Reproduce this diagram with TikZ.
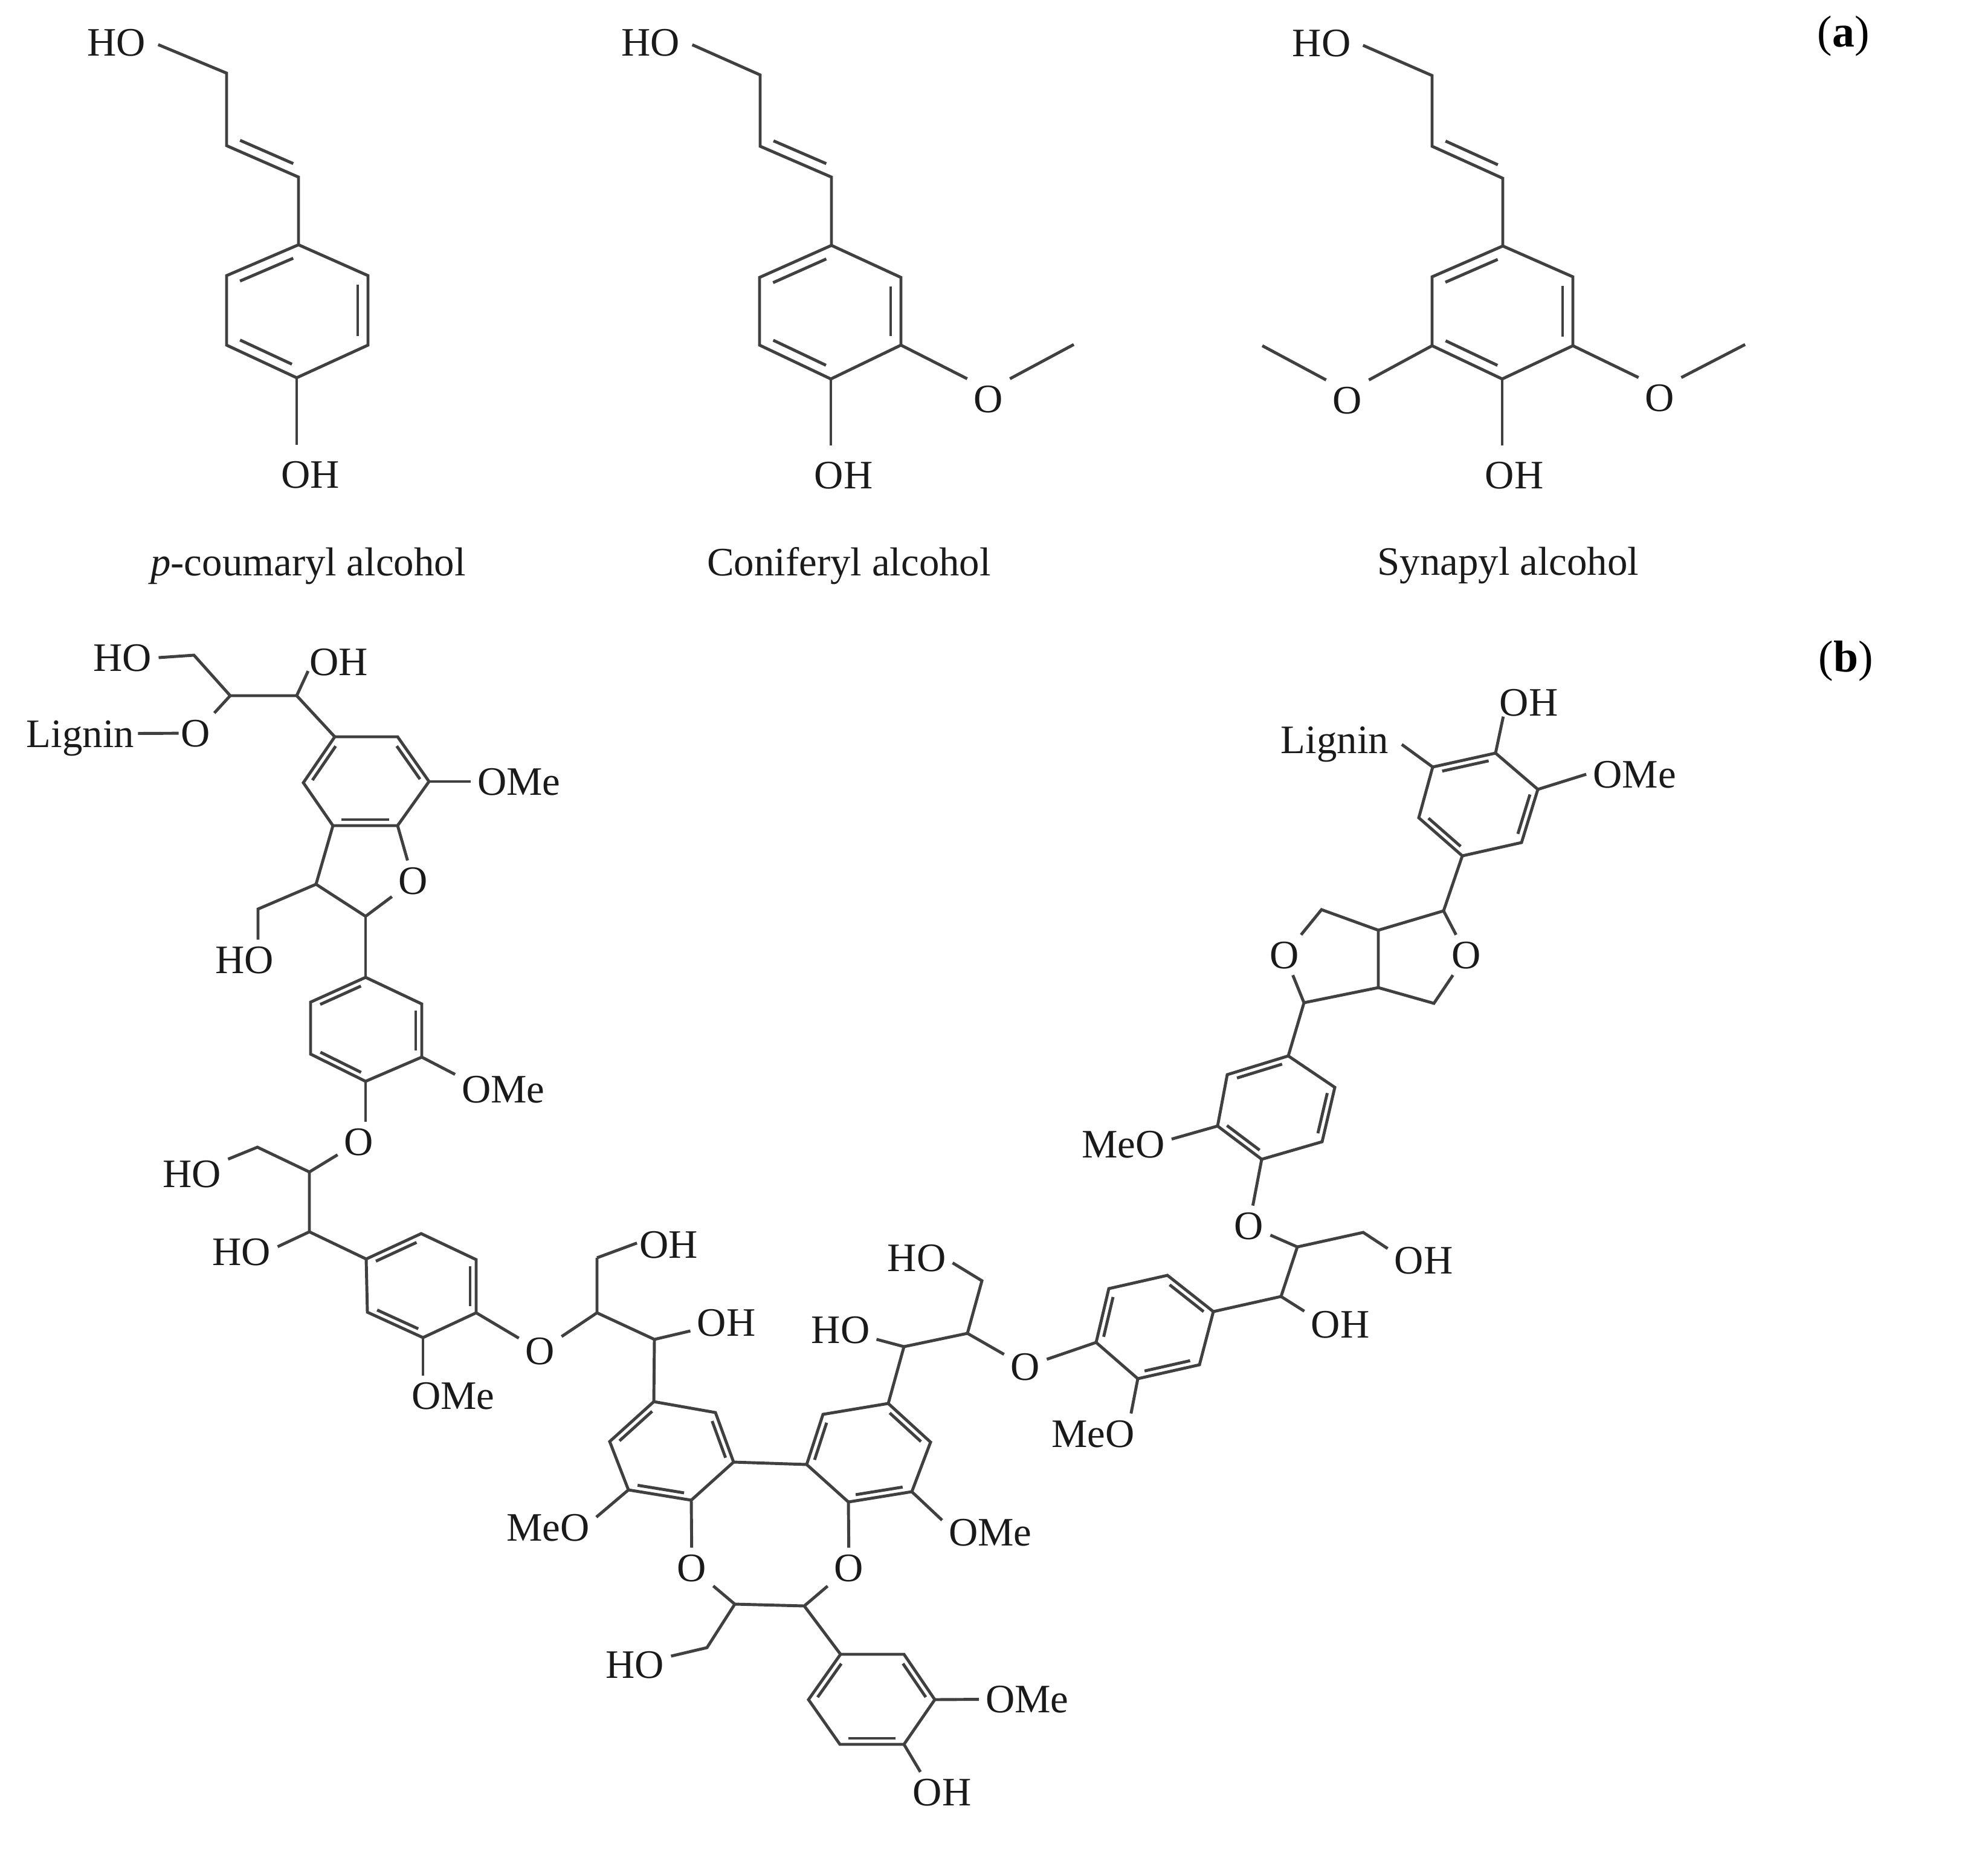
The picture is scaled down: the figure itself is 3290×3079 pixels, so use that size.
\documentclass[tikz,border=0pt]{standalone}
\usepackage{fontspec}
\setmainfont{Liberation Serif}
\usetikzlibrary{calc}

\definecolor{bondgray}{HTML}{404040}
\definecolor{inkgray}{HTML}{1A1A1A}

\tikzset{
  bond/.style={draw=bondgray,line width=1.4pt,line join=miter},
  atom/.style={text=inkgray,inner sep=3pt,text depth=0pt,font=\fontsize{19}{23}\selectfont},
  chemname/.style={text=inkgray,inner sep=0pt,font=\fontsize{19}{23}\selectfont},
  panellabel/.style={text=black,inner sep=0pt,font=\fontsize{21}{25}\selectfont}
}

% inner line of a double bond, right of #1 -> #2
\newcommand{\dbl}[3]{\draw[bond] ($(#1)!.13!(#2)!#3!-90:(#2)$) -- ($(#2)!.13!(#1)!#3!90:(#1)$);}

\begin{document}
\begin{tikzpicture}[x=0.01cm,y=-0.01cm]
  \useasboundingbox (0,0) rectangle (3290,3079);

  % Panel labels
  \node[panellabel] (parta) at (3051,60) {(\textbf{a})};
  \node[panellabel] (partb) at (3055,1094) {(\textbf{b})};

  % p-coumaryl alcohol
  \coordinate (couc) at (375,121);
  \coordinate (coud) at (375,241);
  \coordinate (coue) at (494,293);
  \coordinate (cou1) at (494,405);
  \coordinate (cou2) at (609,456);
  \coordinate (cou3) at (609,571);
  \coordinate (cou4) at (491,625);
  \coordinate (cou5) at (375,571);
  \coordinate (cou6) at (375,456);
  \node[atom] (hocou) at (193,70) {HO};
  \node[atom] (ohcou) at (514,785) {OH};
  \node[chemname] (namecou) at (510,937) {\textit{p}-coumaryl alcohol};
  \draw[bond,shorten <=0.1cm] (hocou.east) -- (couc) -- (coud) -- (coue) -- (cou1);
  \draw[bond] (cou1) -- (cou2) -- (cou3) -- (cou4) -- (cou5) -- (cou6) -- cycle;
  \draw[bond,shorten >=0.16cm] (cou4) -- (cou4 |- ohcou.north);
  \dbl{coue}{coud}{0.17cm}
  \dbl{cou6}{cou1}{0.17cm}
  \dbl{cou2}{cou3}{0.17cm}
  \dbl{cou4}{cou5}{0.17cm}

  % Coniferyl alcohol
  \coordinate (conc) at (1258,124);
  \coordinate (cond) at (1258,242);
  \coordinate (cone) at (1376,293);
  \coordinate (con1) at (1376,406);
  \coordinate (con2) at (1491,459);
  \coordinate (con3) at (1491,571);
  \coordinate (con4) at (1375,627);
  \coordinate (con5) at (1257,571);
  \coordinate (con6) at (1257,459);
  \coordinate (conme) at (1777,570);
  \node[atom] (hocon) at (1077,70) {HO};
  \node[atom] (ohcon) at (1396,786) {OH};
  \node[atom] (ocon) at (1636,660) {O};
  \node[chemname] (namecon) at (1405,936) {Coniferyl alcohol};
  \draw[bond,shorten <=0.1cm] (hocon.east) -- (conc) -- (cond) -- (cone) -- (con1);
  \draw[bond] (con1) -- (con2) -- (con3) -- (con4) -- (con5) -- (con6) -- cycle;
  \draw[bond,shorten >=0.16cm] (con4) -- (con4 |- ohcon.north);
  \draw[bond] (con3) -- (ocon.north west);
  \draw[bond] (ocon.north east) -- (conme);
  \dbl{cone}{cond}{0.17cm}
  \dbl{con6}{con1}{0.17cm}
  \dbl{con2}{con3}{0.17cm}
  \dbl{con4}{con5}{0.17cm}

  % Synapyl alcohol
  \coordinate (sync) at (2370,125);
  \coordinate (synd) at (2370,242);
  \coordinate (syne) at (2487,295);
  \coordinate (syn1) at (2487,407);
  \coordinate (syn2) at (2603,458);
  \coordinate (syn3) at (2603,572);
  \coordinate (syn4) at (2486,627);
  \coordinate (syn5) at (2370,572);
  \coordinate (syn6) at (2370,458);
  \coordinate (synmea) at (2089,572);
  \coordinate (synmeb) at (2888,570);
  \node[atom] (hosyn) at (2187,71) {HO};
  \node[atom] (ohsyn) at (2506,786) {OH};
  \node[atom] (osyna) at (2230,662) {O};
  \node[atom] (osynb) at (2747,658) {O};
  \node[chemname] (namesyn) at (2496,936) {Synapyl alcohol};
  \draw[bond,shorten <=0.1cm] (hosyn.east) -- (sync) -- (synd) -- (syne) -- (syn1);
  \draw[bond] (syn1) -- (syn2) -- (syn3) -- (syn4) -- (syn5) -- (syn6) -- cycle;
  \draw[bond,shorten >=0.16cm] (syn4) -- (syn4 |- ohsyn.north);
  \draw[bond] (syn5) -- (osyna.north east);
  \draw[bond] (osyna.north west) -- (synmea);
  \draw[bond] (syn3) -- (osynb.north west);
  \draw[bond] (osynb.north east) -- (synmeb);
  \dbl{syne}{synd}{0.17cm}
  \dbl{syn6}{syn1}{0.17cm}
  \dbl{syn2}{syn3}{0.17cm}
  \dbl{syn4}{syn5}{0.17cm}

  % Lignin, upper left end
  \coordinate (sca) at (321,1084);
  \coordinate (scb) at (381,1151);
  \coordinate (scc) at (491,1151);
  \coordinate (ra1) at (554,1219);
  \coordinate (ra2) at (658,1219);
  \coordinate (ra3) at (710,1293);
  \coordinate (ra4) at (658,1366);
  \coordinate (ra5) at (551,1366);
  \coordinate (ra6) at (502,1295);
  \coordinate (fua) at (523,1463);
  \coordinate (fub) at (605,1516);
  \coordinate (fuc) at (427,1504);
  \node[atom] (lignina) at (133,1214) {Lignin};
  \node[atom] (oa) at (324,1213) {O};
  \node[atom] (hoa) at (203,1088) {HO};
  \node[atom] (oha) at (561,1095) {OH};
  \node[atom] (omea) at (859,1293) {OMe};
  \node[atom] (ofu) at (684,1457) {O};
  \node[atom] (hofu) at (405,1588) {HO};
  \draw[bond] (hoa.east) -- (sca) -- (scb) -- (scc) -- (ra1);
  \draw[bond] (scb) -- (oa);
  \draw[bond,shorten >=-0.2cm] (scc) -- (oha.south west);
  \draw[bond,shorten <=-0.05cm,shorten >=-0.07cm] (lignina) -- (oa);
  \draw[bond] (ra1) -- (ra2) -- (ra3) -- (ra4) -- (ra5) -- (ra6) -- cycle;
  \draw[bond] (ra3) -- (omea);
  \draw[bond] (ra4) -- (ofu) -- (fub) -- (fua) -- (ra5);
  \draw[bond] (fua) -- (fuc) -- (hofu.north -| fuc);
  \dbl{ra6}{ra1}{0.1cm}
  \dbl{ra2}{ra3}{0.1cm}
  \dbl{ra4}{ra5}{0.1cm}

  % Second ring and its side chain
  \coordinate (rb1) at (605,1617);
  \coordinate (rb2) at (698,1661);
  \coordinate (rb3) at (698,1749);
  \coordinate (rb4) at (605,1789);
  \coordinate (rb5) at (514,1744);
  \coordinate (rb6) at (514,1658);
  \coordinate (sda) at (512,1939);
  \coordinate (sdb) at (426,1898);
  \coordinate (sdc) at (512,2038);
  \node[atom] (omeb) at (833,1802) {OMe};
  \node[atom] (ob) at (594,1889) {O};
  \node[atom] (hob) at (318,1942) {HO};
  \node[atom] (hoc) at (400,2071) {HO};
  \draw[bond] (fub) -- (rb1);
  \draw[bond] (rb1) -- (rb2) -- (rb3) -- (rb4) -- (rb5) -- (rb6) -- cycle;
  \draw[bond] (rb3) -- (omeb.163);
  \draw[bond] (rb4) -- (rb4 |- ob.north);
  \draw[bond] (ob) -- (sda) -- (sdb) -- (hob);
  \draw[bond] (sda) -- (sdc) -- (hoc.8);
  \dbl{rb6}{rb1}{0.1cm}
  \dbl{rb2}{rb3}{0.1cm}
  \dbl{rb4}{rb5}{0.1cm}

  % Third ring and its side chain
  \coordinate (rc1) at (606,2083);
  \coordinate (rc2) at (697,2041);
  \coordinate (rc3) at (788,2084);
  \coordinate (rc4) at (788,2172);
  \coordinate (rc5) at (700,2213);
  \coordinate (rc6) at (608,2171);
  \coordinate (sea) at (988,2172);
  \coordinate (seb) at (988,2081);
  \coordinate (sec) at (1083,2216);
  \node[atom] (omec) at (750,2309) {OMe};
  \node[atom] (oc) at (894,2235) {O};
  \node[atom] (ohc) at (1107,2059) {OH};
  \node[atom] (ohd) at (1202,2188) {OH};
  \draw[bond] (sdc) -- (rc1);
  \draw[bond] (rc1) -- (rc2) -- (rc3) -- (rc4) -- (rc5) -- (rc6) -- cycle;
  \draw[bond] (rc5) -- (rc5 |- omec.north);
  \draw[bond] (rc4) -- (oc) -- (sea) -- (seb);
  \draw[bond,shorten >=-0.07cm] (seb) -- (ohc.west);
  \draw[bond] (sea) -- (sec) -- (ohd);
  \dbl{rc1}{rc2}{0.1cm}
  \dbl{rc3}{rc4}{0.1cm}
  \dbl{rc5}{rc6}{0.1cm}

  % Biphenyl with the eight-membered ring
  \coordinate (rd1) at (1082,2319);
  \coordinate (rd2) at (1184,2337);
  \coordinate (rd3) at (1214,2419);
  \coordinate (rd4) at (1144,2482);
  \coordinate (rd5) at (1040,2465);
  \coordinate (rd6) at (1009,2385);
  \coordinate (re1) at (1470,2322);
  \coordinate (re2) at (1540,2386);
  \coordinate (re3) at (1509,2468);
  \coordinate (re4) at (1404,2485);
  \coordinate (re5) at (1335,2423);
  \coordinate (re6) at (1362,2340);
  \coordinate (sfa) at (1216,2654);
  \coordinate (sfb) at (1331,2657);
  \coordinate (sfc) at (1170,2726);
  \node[atom] (meod) at (907,2527) {MeO};
  \node[atom] (omee) at (1639,2535) {OMe};
  \node[atom] (od) at (1145,2594) {O};
  \node[atom] (oe) at (1405,2594) {O};
  \node[atom] (hof) at (1051,2754) {HO};
  \draw[bond] (sec) -- (rd1);
  \draw[bond] (rd1) -- (rd2) -- (rd3) -- (rd4) -- (rd5) -- (rd6) -- cycle;
  \draw[bond] (re1) -- (re2) -- (re3) -- (re4) -- (re5) -- (re6) -- cycle;
  \draw[bond] (rd3) -- (re5);
  \draw[bond] (rd5) -- (meod.12);
  \draw[bond] (re3) -- (omee.166);
  \draw[bond] (rd4) -- (od) -- (sfa) -- (sfb) -- (oe) -- (re4);
  \draw[bond] (sfa) -- (sfc) -- (hof);
  \dbl{rd6}{rd1}{0.1cm}
  \dbl{rd2}{rd3}{0.1cm}
  \dbl{rd4}{rd5}{0.1cm}
  \dbl{re1}{re2}{0.1cm}
  \dbl{re3}{re4}{0.1cm}
  \dbl{re5}{re6}{0.1cm}

  % Bottom ring
  \coordinate (rh1) at (1391,2737);
  \coordinate (rh2) at (1496,2737);
  \coordinate (rh3) at (1547,2812);
  \coordinate (rh4) at (1496,2886);
  \coordinate (rh5) at (1390,2886);
  \coordinate (rh6) at (1338,2812);
  \node[atom] (omeh) at (1700,2811) {OMe};
  \node[atom] (ohh) at (1559,2965) {OH};
  \draw[bond] (sfb) -- (rh1);
  \draw[bond] (rh1) -- (rh2) -- (rh3) -- (rh4) -- (rh5) -- (rh6) -- cycle;
  \draw[bond] (rh3) -- (omeh);
  \draw[bond] (rh4) -- (ohh.137);
  \dbl{rh6}{rh1}{0.1cm}
  \dbl{rh2}{rh3}{0.1cm}
  \dbl{rh4}{rh5}{0.1cm}

  % Side chain right of the biphenyl
  \coordinate (sga) at (1625,2119);
  \coordinate (sgb) at (1601,2206);
  \coordinate (sgc) at (1496,2228);
  \node[atom] (hog) at (1517,2081) {HO};
  \node[atom] (hoh) at (1391,2200) {HO};
  \node[atom] (og) at (1697,2261) {O};
  \draw[bond] (re1) -- (sgc) -- (sgb) -- (sga) -- (hog.352);
  \draw[bond] (sgc) -- (hoh);
  \draw[bond] (sgb) -- (og);

  % Ring and chain on the way up
  \coordinate (ri1) at (1814,2221);
  \coordinate (ri2) at (1883,2281);
  \coordinate (ri3) at (1985,2258);
  \coordinate (ri4) at (2008,2170);
  \coordinate (ri5) at (1932,2110);
  \coordinate (ri6) at (1835,2132);
  \coordinate (sha) at (2120,2145);
  \coordinate (shb) at (2147,2063);
  \coordinate (shc) at (2256,2039);
  \node[atom] (meoi) at (1809,2372) {MeO};
  \node[atom] (ohi) at (2218,2191) {OH};
  \node[atom] (ohj) at (2356,2085) {OH};
  \node[atom] (oi) at (2067,2028) {O};
  \draw[bond] (og) -- (ri1);
  \draw[bond] (ri1) -- (ri2) -- (ri3) -- (ri4) -- (ri5) -- (ri6) -- cycle;
  \draw[bond] (ri2) -- (meoi.28);
  \draw[bond] (ri4) -- (sha) -- (shb) -- (shc) -- (ohj.162);
  \draw[bond] (sha) -- (ohi.160);
  \draw[bond] (shb) -- (oi);
  \dbl{ri1}{ri6}{0.1cm}
  \dbl{ri3}{ri2}{0.1cm}
  \dbl{ri5}{ri4}{0.1cm}

  % Upper ring of the right arm
  \coordinate (rj1) at (2132,1747);
  \coordinate (rj2) at (2209,1799);
  \coordinate (rj3) at (2188,1889);
  \coordinate (rj4) at (2088,1918);
  \coordinate (rj5) at (2015,1863);
  \coordinate (rj6) at (2031,1778);
  \node[atom] (meoj) at (1859,1893) {MeO};
  \draw[bond] (oi) -- (rj4);
  \draw[bond] (rj1) -- (rj2) -- (rj3) -- (rj4) -- (rj5) -- (rj6) -- cycle;
  \draw[bond] (rj5) -- (meoj.6);
  \dbl{rj6}{rj1}{0.1cm}
  \dbl{rj2}{rj3}{0.1cm}
  \dbl{rj4}{rj5}{0.1cm}

  % Furofuran
  \coordinate (ska) at (2158,1659);
  \coordinate (skb) at (2187,1505);
  \coordinate (skc) at (2281,1539);
  \coordinate (skd) at (2281,1634);
  \coordinate (ske) at (2373,1660);
  \coordinate (skf) at (2389,1507);
  \node[atom] (oka) at (2126,1580) {O};
  \node[atom] (okb) at (2427,1580) {O};
  \draw[bond] (rj1) -- (ska) -- (oka) -- (skb) -- (skc) -- (skd) -- (ska);
  \draw[bond] (skd) -- (ske) -- (okb) -- (skf) -- (skc);

  % Lignin, upper right end
  \coordinate (rl1) at (2475,1246);
  \coordinate (rl2) at (2545,1306);
  \coordinate (rl3) at (2518,1394);
  \coordinate (rl4) at (2420,1416);
  \coordinate (rl5) at (2348,1353);
  \coordinate (rl6) at (2371,1269);
  \node[atom] (ligninb) at (2209,1224) {Lignin};
  \node[atom] (ohl) at (2530,1162) {OH};
  \node[atom] (omel) at (2705,1281) {OMe};
  \draw[bond] (skf) -- (rl4);
  \draw[bond] (rl1) -- (rl2) -- (rl3) -- (rl4) -- (rl5) -- (rl6) -- cycle;
  \draw[bond,shorten >=0.13cm] (rl6) -- (ligninb.east);
  \draw[bond,shorten >=-0.1cm] (rl1) -- (ohl.217);
  \draw[bond] (rl2) -- (omel.west);
  \dbl{rl6}{rl1}{0.1cm}
  \dbl{rl2}{rl3}{0.1cm}
  \dbl{rl4}{rl5}{0.1cm}
\end{tikzpicture}
\end{document}
